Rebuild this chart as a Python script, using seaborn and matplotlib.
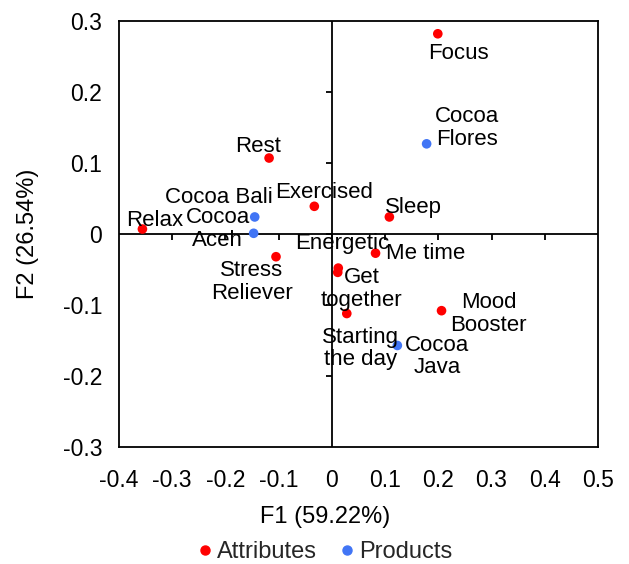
import matplotlib
matplotlib.use("Agg")
import matplotlib.pyplot as plt
import seaborn as sns
import pandas as pd

# Correspondence analysis map: attributes and products on the first two factors
attr_names = ["Focus", "Rest", "Exercised", "Relax", "Stress\nReliever", "Sleep",
              "Me time", "Energetic", "Get\ntogether", "Starting\nthe day", "Mood\nBooster"]
attr_f1 = [0.199, -0.118, -0.033, -0.356, -0.105, 0.108, 0.082, 0.012, 0.011, 0.028, 0.206]
attr_f2 = [0.282, 0.107, 0.039, 0.007, -0.032, 0.024, -0.027, -0.048, -0.054, -0.112, -0.108]

prod_names = ["Cocoa\nFlores", "Cocoa Bali", "Cocoa\nAceh", "Cocoa\nJava"]
prod_f1 = [0.178, -0.145, -0.147, 0.123]
prod_f2 = [0.127, 0.024, 0.001, -0.157]

# label offsets in pixels (dx right, dy up) relative to each point
attr_offsets = [(21, -20), (-11, 12), (10, 14), (12, 9), (-24, -25), (24, 9),
                (50, 0), (4, 25), (24, -17), (14, -35), (47, -3)]
prod_offsets = [(40, 16), (-36, 19), (-36, 4), (40, -11)]

x_ticks = [-0.4, -0.3, -0.2, -0.1, 0, 0.1, 0.2, 0.3, 0.4, 0.5]
y_ticks = [-0.3, -0.2, -0.1, 0, 0.1, 0.2, 0.3]

RED = "#FF0000"
BLUE = "#4175F5"

sns.set_theme(style="white")
plt.rcParams["font.family"] = ["Liberation Sans", "DejaVu Sans"]
FS = 16        # point labels
FS_TICK = 16.5
FS_AXIS = 17   # axis titles and legend

df = pd.concat([
    pd.DataFrame({"F1": attr_f1, "F2": attr_f2, "label": attr_names, "group": "Attributes"}),
    pd.DataFrame({"F1": prod_f1, "F2": prod_f2, "label": prod_names, "group": "Products"}),
], ignore_index=True)

fig = plt.figure(figsize=(6.29, 5.64), dpi=100)
ax = fig.add_axes([119 / 629, 1 - 447 / 564, (598 - 119) / 629, (447 - 21) / 564])

# zero axes with their tick marks
ax.axhline(0, color="black", lw=1.3, zorder=1)
ax.axvline(0, color="black", lw=1.3, zorder=1)
ax.plot(x_ticks[1:-1], [0] * (len(x_ticks) - 2), ls="none", marker=3,
        color="black", ms=4, mew=1.3, zorder=1)
ax.plot([0] * (len(y_ticks) - 2), y_ticks[1:-1], ls="none", marker=0,
        color="black", ms=4, mew=1.3, zorder=1)

sns.scatterplot(data=df, x="F1", y="F2", hue="group",
                palette={"Attributes": RED, "Products": BLUE},
                s=48, edgecolor="none", ax=ax, zorder=3)

for names, xs, ys, offs in [(attr_names, attr_f1, attr_f2, attr_offsets),
                             (prod_names, prod_f1, prod_f2, prod_offsets)]:
    for n, x, y, (dx, dy) in zip(names, xs, ys, offs):
        ax.annotate(n, (x, y), xytext=(dx, dy), textcoords="offset pixels",
                    ha="center", va="center", multialignment="center",
                    fontsize=FS, color="black", linespacing=1.12, zorder=4)

ax.set_xlim(-0.4, 0.5)
ax.set_ylim(-0.3, 0.3)
ax.set_xticks(x_ticks)
ax.set_yticks(y_ticks)
ax.set_xticklabels([f"{t:g}" for t in x_ticks])
ax.set_yticklabels([f"{t:g}" for t in y_ticks])
ax.tick_params(axis="both", length=0, labelsize=FS_TICK, colors="black")
ax.tick_params(axis="x", pad=15.5)
ax.tick_params(axis="y", pad=12)
for sp in ax.spines.values():
    sp.set_visible(True)
    sp.set_color("black")
    sp.set_linewidth(1.3)

ax.set_xlabel("F1 (59.22%)", fontsize=FS_AXIS, color="black")
ax.set_ylabel("F2 (26.54%)", fontsize=FS_AXIS, color="black")
ax.xaxis.set_label_coords((325 - 119) / 479, (447 - 517) / 426)
ax.yaxis.set_label_coords((28 - 119) / 479, 0.5)
ax.xaxis.label.set_va("center")
ax.yaxis.label.set_va("center")

ax.legend_.remove()
handles = [plt.Line2D([], [], ls="none", marker="o", color=c, ms=6.5) for c in (RED, BLUE)]
fig.legend(handles, ["Attributes", "Products"], loc="center",
           bbox_to_anchor=(324 / 629, 1 - 552 / 564), ncol=2, frameon=False,
           fontsize=FS_AXIS, handletextpad=0.1, columnspacing=0.87, handlelength=0.8)

fig.savefig("out.png", dpi=100)
